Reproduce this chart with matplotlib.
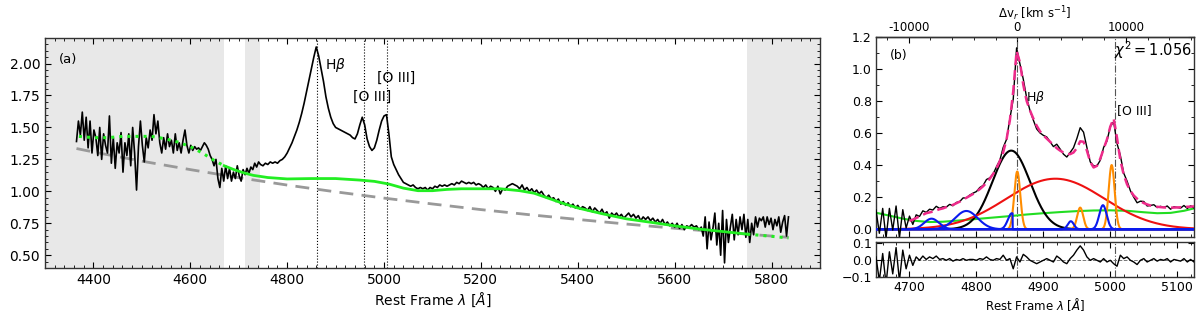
import numpy as np
import matplotlib.pyplot as plt
from matplotlib.ticker import MultipleLocator, FixedLocator


plt.rcParams["font.family"] = "DejaVu Sans"
plt.rcParams["font.size"] = 10
plt.rcParams["xtick.direction"] = "in"
plt.rcParams["ytick.direction"] = "in"
plt.rcParams["xtick.top"] = True
plt.rcParams["ytick.right"] = True
plt.rcParams["axes.edgecolor"] = "#333333"
plt.rcParams["axes.linewidth"] = 1.0


# --------------------------------------------------
# 1. Panel (a): full spectrum
# --------------------------------------------------
# noisy blue end, 4 A step
wave_a1 = np.arange(4365, 4746, 4)
flux_a1 = [
    1.39, 1.55, 1.44, 1.62, 1.40, 1.58, 1.34, 1.55, 1.30, 1.48,
    1.42, 1.28, 1.50, 1.25, 1.45, 1.36, 1.30, 1.59, 1.22, 1.42,
    1.18, 1.38, 1.30, 1.46, 1.15, 1.38, 1.28, 1.45, 1.20, 1.50,
    1.30, 1.01, 1.35, 1.55, 1.36, 1.23, 1.42, 1.34, 1.48, 1.40,
    1.60, 1.45, 1.55, 1.38, 1.30, 1.42, 1.33, 1.45, 1.35, 1.40,
    1.30, 1.45, 1.32, 1.38, 1.30, 1.40, 1.48, 1.36, 1.30, 1.36,
    1.32, 1.35, 1.33, 1.34, 1.32, 1.35, 1.38, 1.36, 1.33, 1.28,
    1.25, 1.20, 1.25, 1.10, 1.03, 1.18, 1.08, 1.20, 1.10, 1.18,
    1.08, 1.15, 1.10, 1.20, 1.12, 1.08, 1.17, 1.13, 1.18, 1.14,
    1.19, 1.17, 1.22, 1.19, 1.23, 1.21,
]
# emission line region and continuum, 5 A step
wave_a2 = np.arange(4750, 5656, 5)
flux_a2 = [
    1.20, 1.22, 1.21, 1.23, 1.22, 1.23, 1.22, 1.24, 1.25, 1.27,
    1.30, 1.34, 1.38, 1.43, 1.48, 1.54, 1.61, 1.69, 1.78, 1.87,
    1.96, 2.05, 2.13, 2.06, 1.96, 1.86, 1.74, 1.65, 1.58, 1.53,
    1.50, 1.49, 1.48, 1.47, 1.46, 1.45, 1.44, 1.42, 1.41, 1.45,
    1.52, 1.58, 1.52, 1.41, 1.35, 1.32, 1.34, 1.40, 1.48, 1.55,
    1.59, 1.60, 1.45, 1.27, 1.21, 1.17, 1.13, 1.10, 1.07, 1.06,
    1.05, 1.04, 1.05, 1.03, 1.02, 1.03, 1.02, 1.03, 1.01, 1.03,
    1.02, 1.04, 1.03, 1.05, 1.04, 1.05, 1.04, 1.05, 1.06, 1.05,
    1.07, 1.06, 1.08, 1.07, 1.06, 1.07, 1.06, 1.07, 1.05, 1.06,
    1.05, 1.03, 1.05, 1.02, 1.04, 1.03, 1.00, 1.04, 0.98, 1.02,
    1.01, 1.04, 1.05, 1.06, 1.05, 1.04, 1.02, 1.05, 1.01, 1.03,
    1.00, 1.02, 0.99, 1.01, 0.98, 1.00, 0.97, 0.95, 0.97, 0.94,
    0.95, 0.92, 0.94, 0.90, 0.92, 0.89, 0.91, 0.88, 0.90, 0.87,
    0.89, 0.86, 0.88, 0.87, 0.85, 0.88, 0.84, 0.87, 0.85, 0.83,
    0.86, 0.82, 0.84, 0.79, 0.83, 0.81, 0.83, 0.80, 0.82, 0.79,
    0.81, 0.83, 0.80, 0.82, 0.79, 0.81, 0.77, 0.80, 0.78, 0.80,
    0.77, 0.79, 0.76, 0.78, 0.75, 0.78, 0.74, 0.76, 0.73, 0.75,
    0.72, 0.75, 0.71, 0.74, 0.70, 0.73, 0.72, 0.74, 0.72, 0.73,
    0.70, 0.72,
]
# noisy red end, 4 A step
wave_a3 = np.arange(5659, 5836, 4)
flux_a3 = [
    0.65, 0.80, 0.55, 0.76, 0.62, 0.71, 0.83, 0.58, 0.75, 0.50,
    0.85, 0.44, 0.78, 0.60, 0.72, 0.82, 0.62, 0.78, 0.66, 0.80,
    0.70, 0.82, 0.64, 0.78, 0.60, 0.75, 0.66, 0.80, 0.72, 0.79,
    0.77, 0.80, 0.72, 0.80, 0.74, 0.79, 0.70, 0.78, 0.73, 0.80,
    0.68, 0.76, 0.81, 0.65, 0.80,
]
wave_a = np.concatenate([wave_a1, wave_a2, wave_a3])
flux_a = np.concatenate([flux_a1, flux_a2, flux_a3])

# host + FeII continuum (green) and power law (grey dashed)
cont_wave = [4370, 4400, 4430, 4460, 4490, 4520, 4550, 4575, 4600, 4625,
             4650, 4670, 4690, 4710, 4730, 4760, 4800, 4850, 4900, 4950,
             4980, 5010, 5040, 5070, 5100, 5130, 5160, 5200, 5240, 5280,
             5310, 5340, 5370, 5400, 5450, 5500, 5550, 5600, 5650, 5700,
             5750, 5800, 5835]
cont_flux = [1.43, 1.42, 1.42, 1.43, 1.43, 1.43, 1.41, 1.385, 1.35, 1.30,
             1.24, 1.20, 1.17, 1.145, 1.125, 1.108, 1.097, 1.10, 1.10, 1.088,
             1.078, 1.057, 1.025, 1.005, 1.005, 1.015, 1.02, 1.02, 1.02, 1.005,
             0.985, 0.945, 0.905, 0.87, 0.825, 0.785, 0.758, 0.73, 0.705, 0.685,
             0.665, 0.648, 0.635]
pl_wave = [4365, 4400, 4500, 4600, 4700, 4800, 4900, 5000, 5100, 5200,
           5300, 5400, 5500, 5600, 5700, 5800, 5835]
pl_flux = [1.335, 1.308, 1.236, 1.170, 1.107, 1.049, 0.996, 0.947, 0.901, 0.857,
           0.817, 0.780, 0.744, 0.711, 0.680, 0.650, 0.640]

masked_ranges = [(4300, 4670), (4712, 4744), (5750, 5900)]
fit_lo, fit_hi = 4670, 5750

line_waves = [4861, 4959, 5007]


# --------------------------------------------------
# 2. Panel (b): H-beta region fit
# --------------------------------------------------
wave_b = np.arange(4650, 5126, 5)
model_b = [
    0.100, 0.095, 0.090, 0.085, 0.080, 0.075, 0.070, 0.066, 0.062, 0.058,
    0.052, 0.060, 0.070, 0.080, 0.090, 0.100, 0.105, 0.110, 0.118, 0.125,
    0.130, 0.138, 0.145, 0.152, 0.162, 0.172, 0.185, 0.196, 0.208, 0.220,
    0.235, 0.250, 0.268, 0.290, 0.315, 0.345, 0.380, 0.425, 0.480, 0.560,
    0.680, 0.860, 1.110, 1.040, 0.900, 0.800, 0.740, 0.690, 0.645, 0.610,
    0.585, 0.565, 0.545, 0.525, 0.505, 0.490, 0.478, 0.470, 0.468, 0.478,
    0.505, 0.548, 0.545, 0.490, 0.420, 0.385, 0.395, 0.440, 0.500, 0.560,
    0.640, 0.690, 0.570, 0.430, 0.340, 0.280, 0.240, 0.210, 0.190, 0.175,
    0.163, 0.155, 0.148, 0.143, 0.140, 0.138, 0.136, 0.135, 0.135, 0.135,
    0.136, 0.137, 0.138, 0.140, 0.141, 0.143,
]
resid_b = [
    0.020, -0.120, 0.040, -0.140, 0.050, -0.080, 0.075, -0.120, 0.060, -0.050,
    0.030, -0.030, 0.020, 0.000, 0.025, 0.005, 0.020, 0.010, 0.025, 0.005,
    0.010, 0.000, 0.010, -0.005, 0.005, 0.000, 0.010, 0.000, 0.005, 0.005,
    0.000, 0.010, 0.005, 0.020, 0.005, 0.000, 0.010, 0.005, 0.030, 0.000,
    0.010, -0.050, 0.020, -0.010, 0.035, 0.020, 0.000, -0.010, -0.020, -0.010,
    0.000, 0.010, 0.000, -0.010, 0.025, 0.010, -0.010, -0.020, 0.010, 0.030,
    0.060, 0.085, 0.060, 0.020, 0.000, 0.010, 0.000, -0.010, 0.010, -0.010,
    0.000, -0.020, -0.035, 0.030, 0.010, 0.020, 0.000, -0.010, -0.025, 0.000,
    0.010, -0.010, 0.000, 0.010, -0.005, 0.005, 0.000, 0.010, -0.010, 0.005,
    0.000, -0.005, 0.010, -0.010, 0.005, -0.010,
]
model_start = 4700

# smooth continuum of panel (b)
cont_b_wave = [4650, 4670, 4690, 4710, 4730, 4750, 4775, 4800, 4825, 4850,
               4875, 4900, 4925, 4950, 4975, 5000, 5025, 5050, 5070, 5090,
               5110, 5125]
cont_b_flux = [0.103, 0.085, 0.066, 0.052, 0.045, 0.047, 0.055, 0.064, 0.073, 0.082,
               0.092, 0.100, 0.107, 0.113, 0.117, 0.118, 0.115, 0.106, 0.100, 0.102,
               0.115, 0.130]

# gaussian components: centre [A], peak, sigma [A]
broad_hb = (4852, 0.49, 28)
vbroad_hb = (4918, 0.315, 73)
narrow_lines = [(4861, 0.36, 4.5), (4955, 0.135, 4.5), (5002, 0.40, 4.5)]
feii_lines = [(4733, 0.066, 11), (4785, 0.114, 17), (4853, 0.10, 6),
              (4941, 0.05, 4.5), (4989, 0.15, 5.5)]
feii_cut = {2: 4854}   # third FeII template line is clipped on its red side

chi2 = 1.056
C_KMS = 299792.458
HB_REST = 4861.0
OIII_REST = 5007.0


def gauss(x, centre, peak, sigma):
    return peak * np.exp(-0.5 * ((x - centre) / sigma) ** 2)


def to_vel(lam):
    return (lam / HB_REST - 1.0) * C_KMS


def to_lam(v):
    return HB_REST * (1.0 + v / C_KMS)


# --------------------------------------------------
# 3. Figure layout
# --------------------------------------------------
fig = plt.figure(figsize=(12, 3.14), dpi=100)
ax_a = fig.add_axes([0.0375, 0.1465, 0.6458, 0.7325])
ax_b = fig.add_axes([0.730, 0.2443, 0.265, 0.639])
ax_r = fig.add_axes([0.730, 0.1169, 0.265, 0.1137])


# --------------------------------------------------
# 4. Panel (a)
# --------------------------------------------------
for lo, hi in masked_ranges:
    ax_a.axvspan(lo, hi, color="#e8e8e8", lw=0, zorder=0)

for lw_ in line_waves:
    ax_a.axvline(lw_, color="k", ls=":", lw=0.8, zorder=1)

cw = np.array(cont_wave)
cf = np.array(cont_flux)
ax_a.plot(pl_wave, pl_flux, color="#999999", ls="--", lw=2, dashes=(5, 3), zorder=2)
ax_a.plot(wave_a, flux_a, color="k", lw=1.2, zorder=3)
blue_side = cw <= fit_lo
mid = (cw >= fit_lo) & (cw <= fit_hi)
red_side = cw >= fit_hi
ax_a.plot(cw[blue_side], cf[blue_side], color="#22ee22", ls=":", lw=2.2, zorder=4)
ax_a.plot(cw[mid], cf[mid], color="#22ee22", lw=2, zorder=4)
ax_a.plot(cw[red_side], cf[red_side], color="#22ee22", ls=":", lw=2.2, zorder=4)

ax_a.text(4328, 2.03, "(a)", ha="left", va="center", fontsize=9.5)
ax_a.text(4879, 1.985, r"H$\beta$", ha="left", va="center", fontsize=10)
ax_a.text(4975, 1.74, "[O III]", ha="center", va="center", fontsize=10)
ax_a.text(5025, 1.887, "[O III]", ha="center", va="center", fontsize=10)

ax_a.set_xlim(4300, 5900)
ax_a.set_ylim(0.4, 2.2)
ax_a.set_yticks([0.5, 0.75, 1.0, 1.25, 1.5, 1.75, 2.0])
ax_a.set_yticklabels(["0.50", "0.75", "1.00", "1.25", "1.50", "1.75", "2.00"])
ax_a.xaxis.set_major_locator(MultipleLocator(200))
ax_a.xaxis.set_minor_locator(MultipleLocator(20))
ax_a.yaxis.set_minor_locator(MultipleLocator(0.05))
ax_a.tick_params(which="both", direction="in", top=True, right=True, labelsize=10)
ax_a.tick_params(which="major", length=4)
ax_a.tick_params(which="minor", length=2)
ax_a.set_xlabel(r"Rest Frame $\lambda$ [$\AA$]", fontsize=10, labelpad=3)


# --------------------------------------------------
# 5. Panel (b): fit components
# --------------------------------------------------
x = np.linspace(4650, 5125, 1901)
wb = np.array(wave_b)
mb = np.array(model_b)
rb = np.array(resid_b)
data_b = mb + rb

ax_b.plot(cont_b_wave, cont_b_flux, color="#22dd22", lw=1.5, zorder=2)
ax_b.plot(x, gauss(x, *broad_hb), color="k", lw=1.5, zorder=3)
ax_b.plot(x, gauss(x, *vbroad_hb), color="#ee1111", lw=1.5, zorder=3)
for c, p, s in narrow_lines:
    ax_b.plot(x, gauss(x, c, p, s), color="#ff8c00", lw=1.5, zorder=4)
for i, (c, p, s) in enumerate(feii_lines):
    y = gauss(x, c, p, s)
    if i in feii_cut:
        y[x > feii_cut[i]] = 0.0
    ax_b.plot(x, y, color="#0a1aee", lw=1.5, zorder=5)

ax_b.plot(wb, data_b, color="k", lw=1.0, zorder=6)
show = wb >= model_start
ax_b.plot(wb[show], mb[show], color="#ee2a8a", ls="--", lw=1.8, dashes=(4, 2), zorder=7)

for ax in (ax_b, ax_r):
    ax.axvline(HB_REST, color="#555555", ls="-.", lw=0.8, zorder=1)
    ax.axvline(OIII_REST, color="#555555", ls="-.", lw=0.8, zorder=1)

ax_b.text(4671, 1.08, "(b)", ha="left", va="center", fontsize=9)
ax_b.text(4874, 0.82, r"H$\beta$", ha="left", va="center", fontsize=9)
ax_b.text(5010, 0.74, "[O III]", ha="left", va="center", fontsize=9)
ax_b.text(5122, 1.115, r"$\chi^2 = %.3f$" % chi2, ha="right", va="center", fontsize=10.5)

ax_b.set_xlim(4650, 5125)
ax_b.set_ylim(-0.05, 1.2)
ax_b.xaxis.set_major_locator(MultipleLocator(100))
ax_b.xaxis.set_minor_locator(MultipleLocator(20))
ax_b.yaxis.set_major_locator(MultipleLocator(0.2))
ax_b.yaxis.set_minor_locator(MultipleLocator(0.1))
ax_b.tick_params(which="both", direction="in", top=False, right=True,
                 labelbottom=False, labelsize=9, pad=3)
ax_b.tick_params(which="major", length=4)
ax_b.tick_params(which="minor", length=2)

top = ax_b.secondary_xaxis("top", functions=(to_vel, to_lam))
top.xaxis.set_major_locator(FixedLocator([-10000, 0, 10000]))
top.set_xticklabels(["-10000", "0", "10000"])
top.xaxis.set_minor_locator(MultipleLocator(2000))
top.tick_params(which="both", direction="in", labelsize=8.5, pad=2)
top.tick_params(which="major", length=4)
top.tick_params(which="minor", length=2)
top.set_xlabel(r"$\Delta$v$_r$ [km s$^{-1}$]", fontsize=8.5, labelpad=2)


# --------------------------------------------------
# 6. Residuals
# --------------------------------------------------
ax_r.axhline(0.0, color="#777777", ls="--", lw=0.7, zorder=1)
ax_r.plot(wb, rb, color="k", lw=1.0, zorder=3)
ax_r.set_xlim(4650, 5125)
ax_r.set_ylim(-0.1, 0.11)
ax_r.set_yticks([-0.1, 0.0, 0.1])
ax_r.xaxis.set_major_locator(MultipleLocator(100))
ax_r.xaxis.set_minor_locator(MultipleLocator(20))
ax_r.tick_params(which="both", direction="in", top=True, right=True, labelsize=9, pad=3)
ax_r.tick_params(which="major", length=4)
ax_r.tick_params(which="minor", length=2)
ax_r.set_xlabel(r"Rest Frame $\lambda$ [$\AA$]", fontsize=8.5, labelpad=1)

fig.savefig("out.png", dpi=100)
